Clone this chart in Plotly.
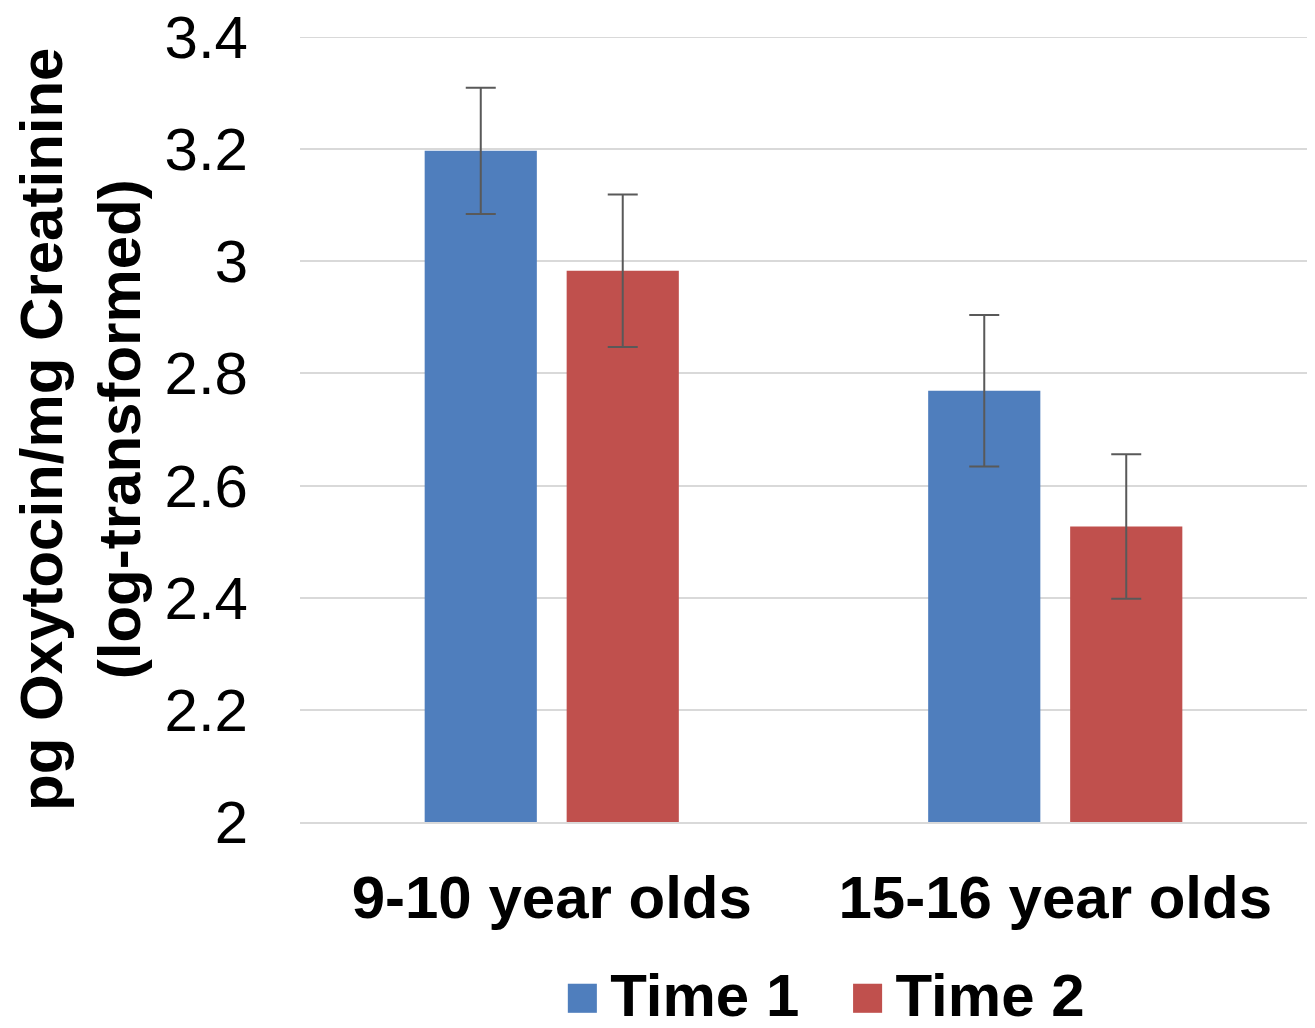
import plotly.graph_objects as go

categories = ["9-10 year olds", "15-16 year olds"]
time1_values = [3.197, 2.769]
time1_errors = [0.1125, 0.135]
time2_values = [2.983, 2.527]
time2_errors = [0.136, 0.129]
series_names = ["Time 1", "Time 2"]
y_ticks = [2.0, 2.2, 2.4, 2.6, 2.8, 3.0, 3.2, 3.4]
y_tick_text = ["2", "2.2", "2.4", "2.6", "2.8", "3", "3.2", "3.4"]

BLUE = "#4F7EBD"
RED = "#C0504D"
ERR = "#595959"
GRID = "#d9d9d9"
FONT = "Liberation Sans, Arial, sans-serif"

fig = go.Figure()
for name, vals, errs, col in [
    (series_names[0], time1_values, time1_errors, BLUE),
    (series_names[1], time2_values, time2_errors, RED),
]:
    fig.add_trace(go.Bar(
        x=categories, y=vals, name=name, marker=dict(color=col, line=dict(width=0)),
        error_y=dict(type="data", array=errs, visible=True, color=ERR, thickness=2, width=15),
        showlegend=False,
    ))

fig.update_layout(
    width=1299, height=1012,
    margin=dict(l=292, r=0, t=29, b=198),
    plot_bgcolor="white", paper_bgcolor="white",
    barmode="group", bargap=0.436, bargroupgap=0.21,
    font=dict(family=FONT, color="black"),
    showlegend=False,
    xaxis=dict(
        tickfont=dict(size=60, family=FONT, weight="bold", color="black"),
        showline=True, linecolor=GRID, linewidth=2, ticks="",
        ticklabelstandoff=22, automargin=False,
    ),
    yaxis=dict(
        range=[2, 3.4], tickvals=y_ticks, ticktext=y_tick_text,
        tickfont=dict(size=60, family=FONT, color="black"),
        showgrid=True, gridcolor=GRID, gridwidth=2, zeroline=False,
        ticks="", ticklabelstandoff=51, automargin=False,
        showline=False, ticklabeloverflow="allow",
    ),
)
# top gridline at 3.4 (edge of range)
fig.add_hline(y=3.4, line=dict(color=GRID, width=2))

fig.add_annotation(
    text="pg Oxytocin/mg Creatinine<br>(log-transformed)",
    xref="paper", yref="paper", x=-0.218, y=0.5, xanchor="center", yanchor="middle",
    textangle=-90, showarrow=False,
    font=dict(size=60, family=FONT, weight="bold", color="black"),
)
# legend
sp = "<span style='font-size:36px'> </span>"
legend_text = (
    f"<span style='color:{BLUE}'>■</span>{sp}{series_names[0]}"
    f"   <span style='color:{RED}'>■</span>{sp}{series_names[1]}"
)
fig.add_annotation(
    text=legend_text, xref="paper", yref="paper", x=0.5205, y=-0.2204,
    xanchor="center", yanchor="middle", showarrow=False,
    font=dict(size=60, family=FONT, weight="bold", color="black"),
)

fig.write_html("out.html")
